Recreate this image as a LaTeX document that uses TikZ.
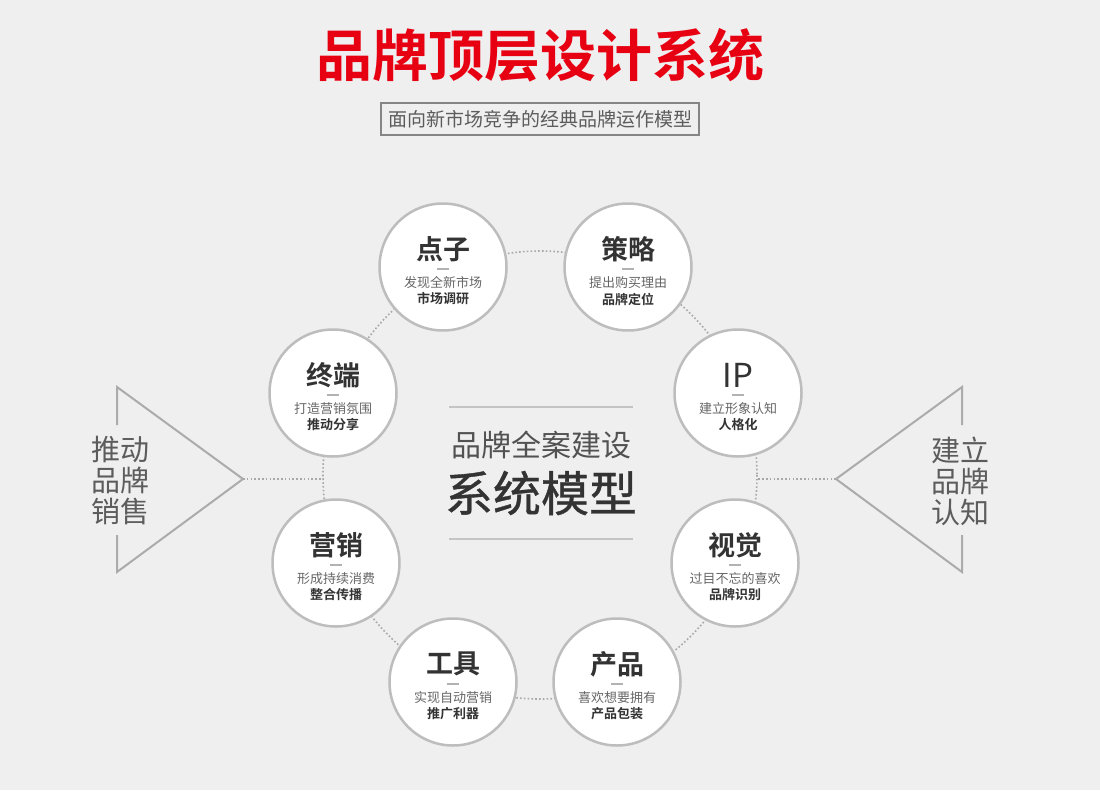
\documentclass[tikz,border=0pt]{standalone}
\usepackage{fontspec}
\setmainfont{Noto Sans CJK SC}[BoldFont={Noto Sans CJK SC Bold}]
\newfontfamily\cjkmed{Noto Sans CJK SC}[FakeBold=0.8]
\usepackage{tikz}
\definecolor{bggray}{HTML}{EFEFEF}
\definecolor{brandred}{HTML}{E60012}
\definecolor{textdark}{HTML}{333333}
\definecolor{textgray}{HTML}{666666}
\definecolor{circgray}{HTML}{BDBDBD}
\definecolor{dotgray}{HTML}{A8A8A8}
\definecolor{trigray}{HTML}{ABABAB}
\definecolor{rulegray}{HTML}{C4C4C4}
\tikzset{
  modcircle/.style={circle, draw=circgray, line width=2.5pt, fill=white,
    minimum size=127pt, inner sep=0pt},
  modtitle/.style={font=\fontsize{27}{27}\selectfont\bfseries, text=textdark, inner sep=0pt},
  modsub/.style={font=\fontsize{13}{13}\selectfont, text=textgray, inner sep=0pt},
  modkey/.style={font=\fontsize{13}{13}\selectfont\bfseries, text=textdark, inner sep=0pt},
  moddash/.style={draw=textgray!50, line width=1.2pt},
  linkdots/.style={draw=dotgray, line width=1.6pt, dash pattern=on 1.6pt off 2.2pt},
  sidetri/.style={draw=trigray, line width=2pt, line join=miter},
  sidetext/.style={font=\fontsize{29}{31}\selectfont, text=textgray!90!black,
    align=center, inner sep=0pt}
}

\begin{document}
\begin{tikzpicture}[x=1pt, y=-1pt]

  % page and background
  \useasboundingbox (0,0) rectangle (1100,790);
  \fill[bggray] (0,0) rectangle (1100,790);

  % heading
  \node[font=\fontsize{56}{56}\selectfont\bfseries, text=brandred, inner sep=0pt]
    (heading) at (540,55) {品牌顶层设计系统};
  \node[draw=textgray!80, line width=1.2pt, font=\fontsize{19}{19}\selectfont,
    text=textgray!90!black, inner xsep=7pt, minimum height=32pt]
    (subheading) at (540,119) {面向新市场竞争的经典品牌运作模型};

  % dotted ring behind the modules
  \draw[linkdots] (540,475) ellipse [x radius=217, y radius=224];

  % modules
  \foreach \name/\x/\y/\head/\lineA/\lineB in {
    dianzi/443/267/点子/发现全新市场/市场调研,
    celve/628/267/策略/提出购买理由/品牌定位,
    zhongduan/333/393/终端/打造营销氛围/推动分享,
    ip/738/393/{\mdseries\fontsize{33}{33}\selectfont IP}/建立形象认知/人格化,
    yingxiao/336/563/营销/形成持续消费/整合传播,
    shijue/735/563/视觉/过目不忘的喜欢/品牌识别,
    gongju/453/682/工具/实现自动营销/推广利器,
    chanpin/617/682/产品/喜欢想要拥有/产品包装
  }{
    \node[modcircle] (c-\name) at (\x,\y) {};
    \node[modtitle] (t-\name) at (\x,{\y-18}) {\head};
    \draw[moddash] ({\x-6},{\y+2}) -- ({\x+6},{\y+2});
    \node[modsub] (a-\name) at (\x,{\y+16}) {\lineA};
    \node[modkey] (b-\name) at (\x,{\y+32}) {\lineB};
  }

  % centre caption
  \draw[rulegray, line width=2.5pt] (449,407) -- (633,407);
  \draw[rulegray, line width=2.5pt] (449,539) -- (633,539);
  \node[font=\fontsize{30}{30}\selectfont, text=textdark!85, inner sep=0pt]
    (capA) at (541,445) {品牌全案建设};
  \node[font=\fontsize{48}{48}\cjkmed, text=textdark, inner sep=0pt]
    (capB) at (541,493) {系统模型};

  % left triangle
  \coordinate (ltip) at (243,479);
  \coordinate (lring) at (323,479);
  \draw[sidetri] (117,425) -- (117,387) -- (ltip) -- (117,572) -- (117,535);
  \node[sidetext] (ltext) at (120,481) {推动\\品牌\\销售};
  \draw[linkdots] (ltip) -- (lring);

  % right triangle
  \coordinate (rtip) at (836,479);
  \coordinate (rring) at (757,479);
  \draw[sidetri] (962,425) -- (962,387) -- (rtip) -- (962,572) -- (962,535);
  \node[sidetext] (rtext) at (960,481) {建立\\品牌\\认知};
  \draw[linkdots] (rtip) -- (rring);

\end{tikzpicture}
\end{document}
